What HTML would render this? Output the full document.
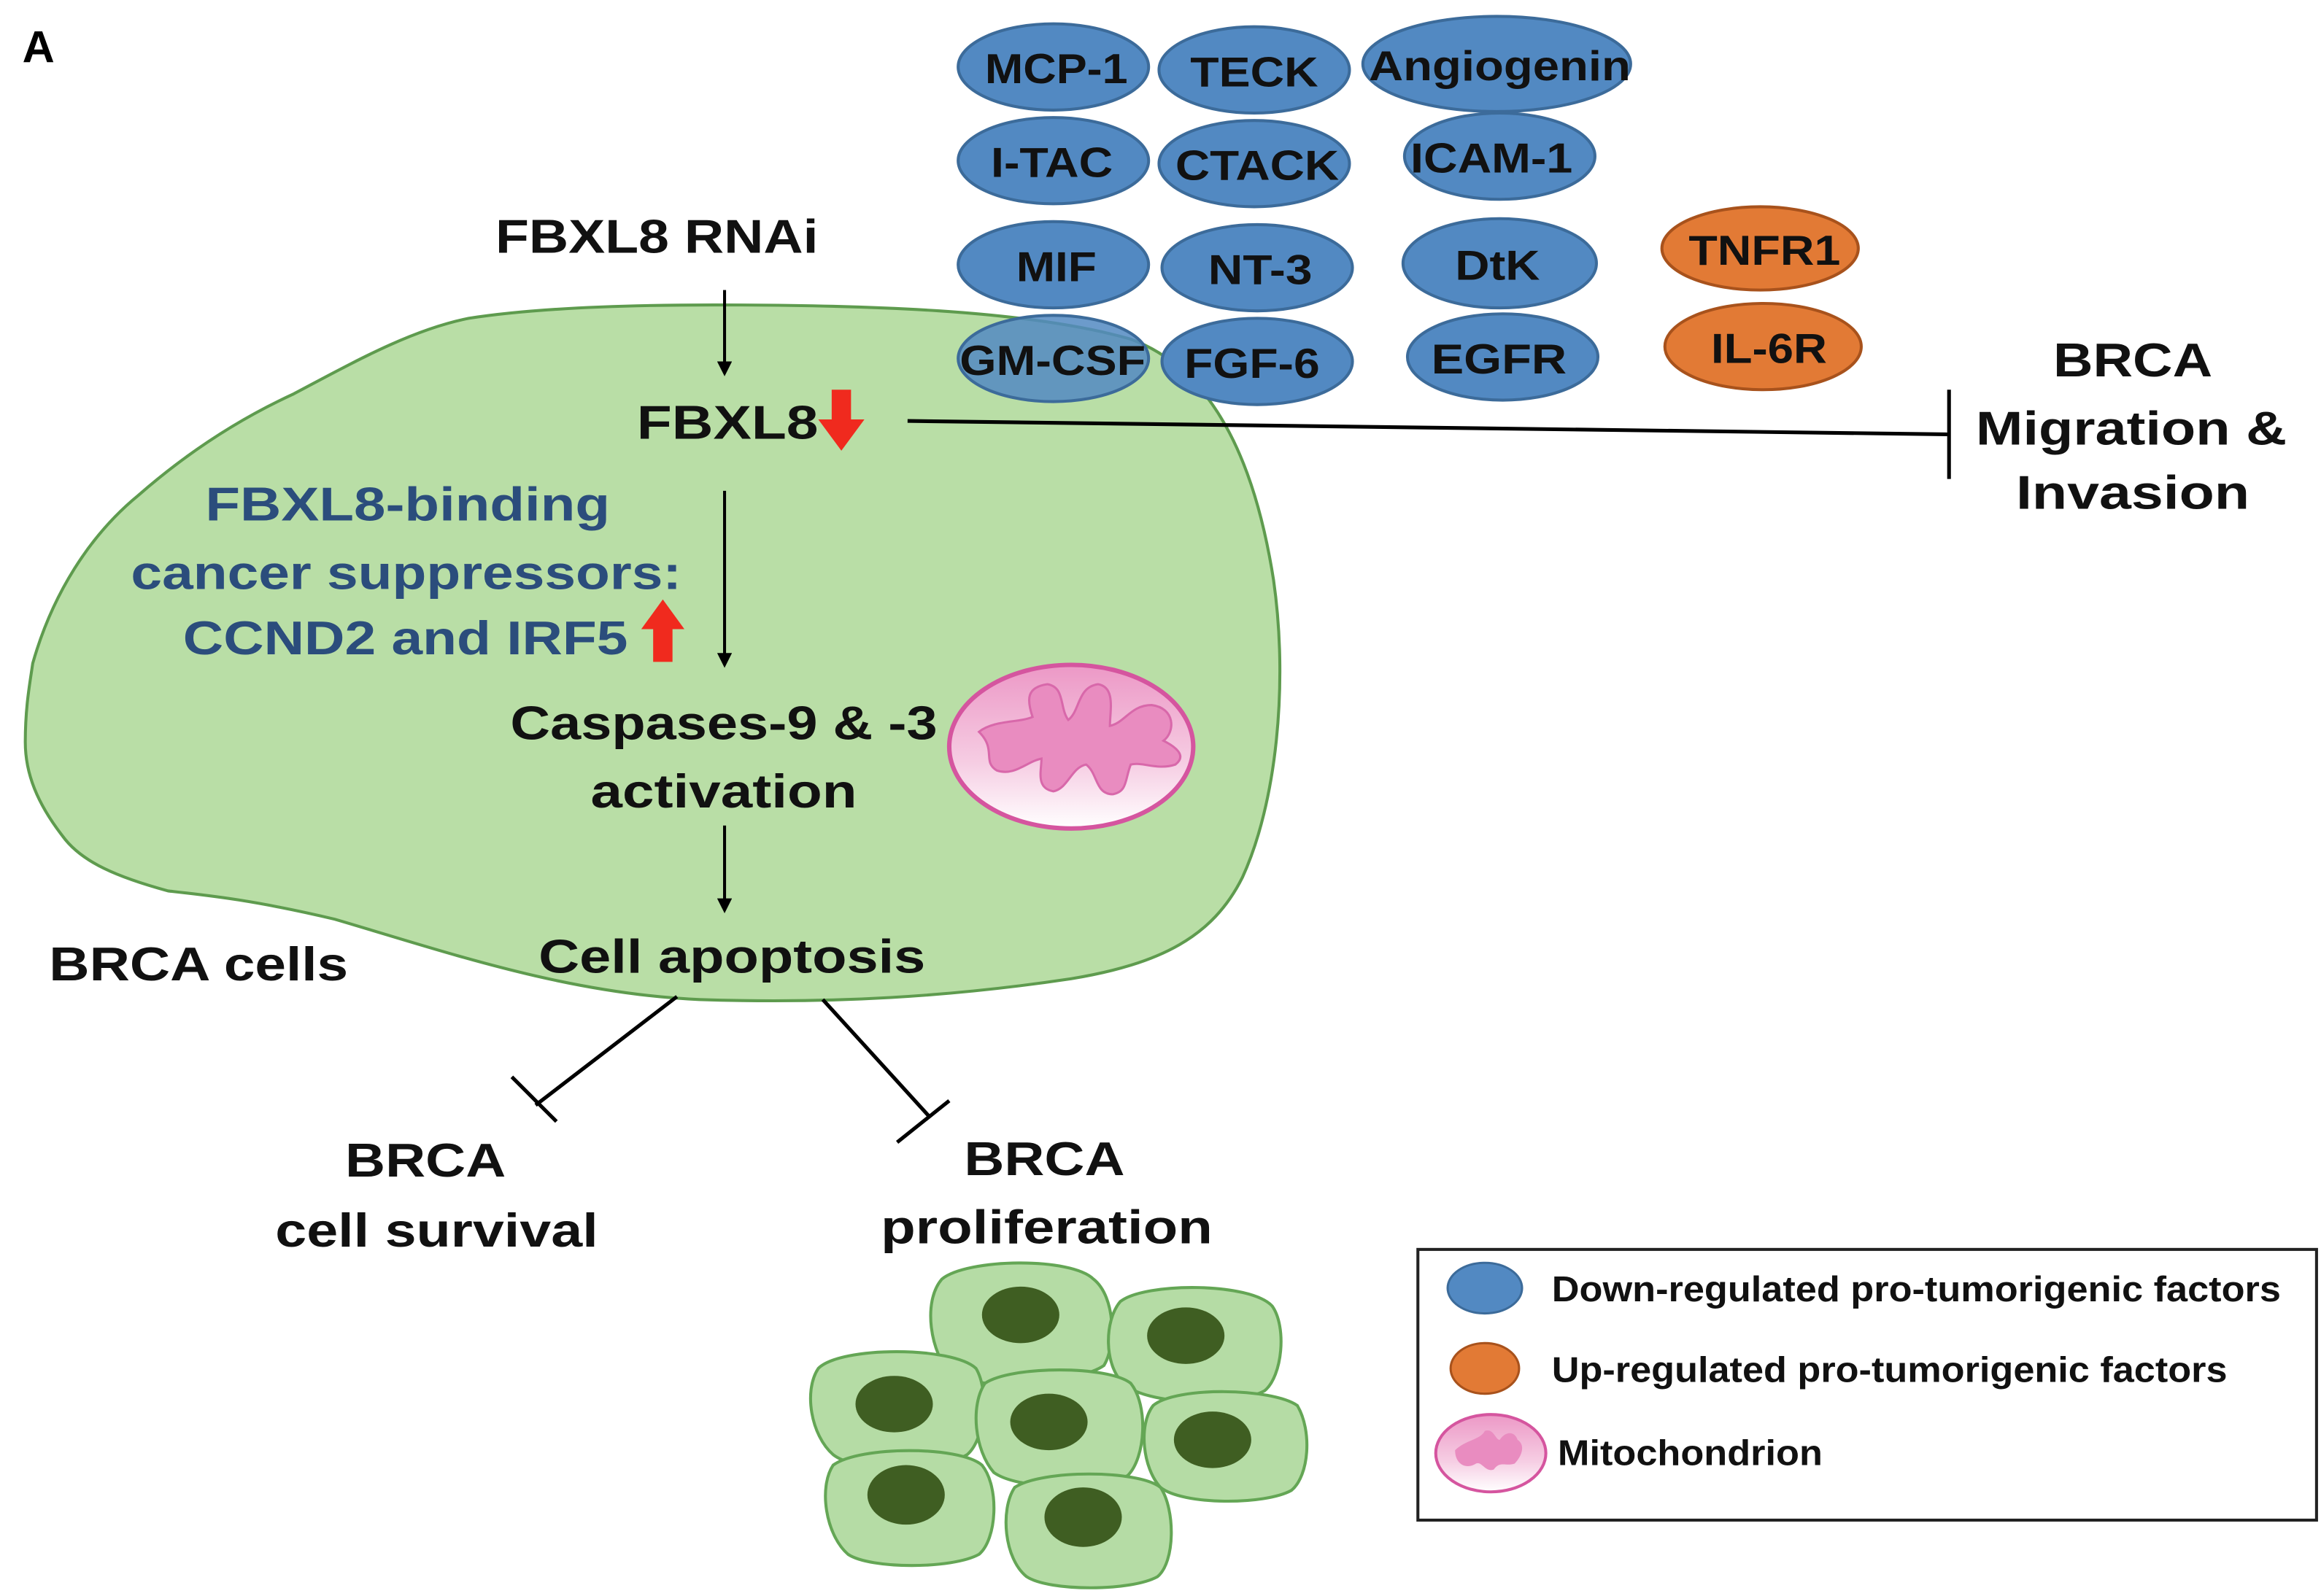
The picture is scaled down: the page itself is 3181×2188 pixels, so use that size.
<!DOCTYPE html>
<html><head><meta charset="utf-8"><style>html,body{margin:0;padding:0;background:#fff}svg{display:block}text{font-family:"Liberation Sans",sans-serif;font-weight:bold}</style></head>
<body>
<svg width="3181" height="2188" viewBox="0 0 1560 1073" xmlns="http://www.w3.org/2000/svg">
<defs>
<linearGradient id="mg" x1="0" y1="0" x2="0" y2="1"><stop offset="0" stop-color="#ec98c6"/><stop offset="0.6" stop-color="#f6cde3"/><stop offset="1" stop-color="#ffffff"/></linearGradient>
<marker id="ar" markerWidth="10" markerHeight="10" refX="5" refY="5" orient="auto" markerUnits="userSpaceOnUse"><path d="M0,0 L10,5 L0,10 z" fill="#000"/></marker>
</defs>
<rect width="1560" height="1073" fill="#fff"/>
<text x="15" y="42" font-size="30">A</text>
<!-- big cell -->
<path d="M315,214 C360,207 420,205 480,205 C580,205 690,208 760,228 C820,250 845,320 856,390 C866,460 858,540 835,590 C815,630 780,648 720,658 C640,670 560,675 470,672 C380,668 300,640 225,618 C170,605 140,602 113,599 C80,590 55,580 42,562 C25,540 17,520 17,499 C17,475 20,460 22,446 C35,400 60,360 93,333 C125,305 160,282 197,265 C235,245 275,222 315,214 Z" fill="#b9dea6" stroke="#5e9b4e" stroke-width="2"/>
<!-- ellipses blue -->
<g fill="#5289c2" stroke="#3c6b9a" stroke-width="2">
<ellipse cx="708" cy="45" rx="64" ry="29"/>
<ellipse cx="843" cy="47" rx="64" ry="29"/>
<ellipse cx="1006" cy="43" rx="90" ry="32"/>
<ellipse cx="708" cy="108" rx="64" ry="29"/>
<ellipse cx="843" cy="110" rx="64" ry="29"/>
<ellipse cx="1008" cy="105" rx="64" ry="29"/>
<ellipse cx="708" cy="178" rx="64" ry="29"/>
<ellipse cx="845" cy="180" rx="64" ry="29"/>
<ellipse cx="1008" cy="177" rx="65" ry="30"/>
<ellipse cx="708" cy="241" rx="64" ry="29" fill-opacity="0.85"/>
<ellipse cx="845" cy="243" rx="64" ry="29"/>
<ellipse cx="1010" cy="240" rx="64" ry="29"/>
</g>
<g fill="#e27a35" stroke="#a8521c" stroke-width="2">
<ellipse cx="1183" cy="167" rx="66" ry="28"/>
<ellipse cx="1185" cy="233" rx="66" ry="29"/>
</g>
<g font-size="28" fill="#111">
<text x="662" y="56" textLength="96" lengthAdjust="spacingAndGlyphs">MCP-1</text>
<text x="800" y="58" textLength="86" lengthAdjust="spacingAndGlyphs">TECK</text>
<text x="920" y="54" textLength="176" lengthAdjust="spacingAndGlyphs">Angiogenin</text>
<text x="666" y="119" textLength="82" lengthAdjust="spacingAndGlyphs">I-TAC</text>
<text x="790" y="121" textLength="110" lengthAdjust="spacingAndGlyphs">CTACK</text>
<text x="948" y="116" textLength="109" lengthAdjust="spacingAndGlyphs">ICAM-1</text>
<text x="683" y="189" textLength="54" lengthAdjust="spacingAndGlyphs">MIF</text>
<text x="812" y="191" textLength="70" lengthAdjust="spacingAndGlyphs">NT-3</text>
<text x="978" y="188" textLength="57" lengthAdjust="spacingAndGlyphs">DtK</text>
<text x="645" y="252" textLength="125" lengthAdjust="spacingAndGlyphs">GM-CSF</text>
<text x="796" y="254" textLength="91" lengthAdjust="spacingAndGlyphs">FGF-6</text>
<text x="962" y="251" textLength="91" lengthAdjust="spacingAndGlyphs">EGFR</text>
<text x="1135" y="178" textLength="102" lengthAdjust="spacingAndGlyphs">TNFR1</text>
<text x="1150" y="244" textLength="78" lengthAdjust="spacingAndGlyphs">IL-6R</text>
</g>
<!-- main texts -->
<g font-size="32" fill="#111">
<text x="333" y="170" textLength="217" lengthAdjust="spacingAndGlyphs">FBXL8 RNAi</text>
<text x="428" y="295" textLength="122" lengthAdjust="spacingAndGlyphs">FBXL8</text>
<text x="1380" y="253" textLength="107" lengthAdjust="spacingAndGlyphs">BRCA</text>
<text x="1328" y="299" textLength="209" lengthAdjust="spacingAndGlyphs">Migration &amp;</text>
<text x="1355" y="342" textLength="157" lengthAdjust="spacingAndGlyphs">Invasion</text>
<text x="343" y="497" textLength="287" lengthAdjust="spacingAndGlyphs">Caspases-9 &amp; -3</text>
<text x="397" y="543" textLength="179" lengthAdjust="spacingAndGlyphs">activation</text>
<text x="362" y="654" textLength="260" lengthAdjust="spacingAndGlyphs">Cell apoptosis</text>
<text x="33" y="659" textLength="201" lengthAdjust="spacingAndGlyphs">BRCA cells</text>
<text x="232" y="791" textLength="108" lengthAdjust="spacingAndGlyphs">BRCA</text>
<text x="185" y="838" textLength="217" lengthAdjust="spacingAndGlyphs">cell survival</text>
<text x="648" y="790" textLength="108" lengthAdjust="spacingAndGlyphs">BRCA</text>
<text x="592" y="836" textLength="223" lengthAdjust="spacingAndGlyphs">proliferation</text>
</g>
<g font-size="32" fill="#2b4d7c">
<text x="138" y="350" textLength="272" lengthAdjust="spacingAndGlyphs">FBXL8-binding</text>
<text x="88" y="396" textLength="370" lengthAdjust="spacingAndGlyphs">cancer suppressors:</text>
<text x="123" y="440" textLength="299" lengthAdjust="spacingAndGlyphs">CCND2 and IRF5</text>
</g>
<!-- red arrows -->
<path d="M559,262 h13 v20 h9 l-15.5,21 l-15.5,-21 h9 z" fill="#f02a1e"/>
<path d="M439,445 h13 v-22 h8 l-14.5,-20 l-14.5,20 h8 z" fill="#f02a1e"/>
<!-- arrows -->
<g stroke="#000" stroke-width="2">
<line x1="487" y1="195" x2="487" y2="248" marker-end="url(#ar)"/>
<line x1="487" y1="330" x2="487" y2="444" marker-end="url(#ar)"/>
<line x1="487" y1="555" x2="487" y2="609" marker-end="url(#ar)"/>
<line x1="610" y1="283" x2="1310" y2="292" stroke-width="2.5"/>
<line x1="1310" y1="262" x2="1310" y2="322" stroke-width="2.5"/>
<line x1="455" y1="670" x2="360" y2="743" stroke-width="2.5"/>
<line x1="344" y1="724" x2="374" y2="754" stroke-width="2.5"/>
<line x1="553" y1="672" x2="624" y2="750" stroke-width="2.5"/>
<line x1="603" y1="768" x2="638" y2="740" stroke-width="2.5"/>
</g>
<!-- mitochondrion -->
<g>
<ellipse cx="720" cy="502" rx="82" ry="55" fill="url(#mg)" stroke="#d5559f" stroke-width="3"/>
<path d="M658,492 C668,484 685,486 694,482 C690,470 690,462 704,460 C716,462 712,476 718,484 C726,478 724,462 738,460 C750,462 746,478 746,488 C756,486 760,474 774,474 C790,476 790,492 782,498 C790,502 798,508 790,514 C778,518 768,512 760,514 C756,524 758,532 748,534 C736,534 738,520 730,514 C720,516 718,530 708,532 C696,530 700,518 700,510 C690,512 682,522 670,518 C660,512 670,504 658,492 Z" fill="#e98cc0" stroke="#d868aa" stroke-width="1.5"/>
</g>
<!-- cluster cells -->
<g stroke="#64a655" stroke-width="2" fill="#b5dca5">
<path d="M633,860 C650,846 720,845 735,860 C750,872 750,905 742,918 C725,930 660,935 640,925 C625,910 620,875 633,860 Z"/>
<path d="M753,875 C770,862 840,862 855,878 C865,892 862,925 850,935 C830,946 770,945 755,930 C742,918 742,888 753,875 Z"/>
<path d="M550,920 C565,905 640,905 656,920 C665,935 662,968 650,978 C630,990 575,990 560,978 C545,965 540,935 550,920 Z"/>
<path d="M662,930 C680,918 745,918 760,930 C772,945 770,980 758,992 C738,1002 685,1002 668,990 C655,975 652,945 662,930 Z"/>
<path d="M775,945 C790,932 855,933 872,945 C882,962 880,992 868,1002 C850,1012 795,1012 780,1000 C768,987 765,958 775,945 Z"/>
<path d="M560,985 C578,972 645,972 660,985 C672,1000 670,1035 658,1045 C640,1055 585,1055 570,1045 C555,1032 550,1000 560,985 Z"/>
<path d="M682,1000 C700,988 765,988 780,1000 C790,1015 790,1050 778,1060 C760,1070 705,1070 690,1060 C675,1048 672,1015 682,1000 Z"/>
</g>
<g fill="#3f5e22">
<ellipse cx="686" cy="884" rx="26" ry="19"/>
<ellipse cx="797" cy="898" rx="26" ry="19"/>
<ellipse cx="601" cy="944" rx="26" ry="19"/>
<ellipse cx="705" cy="956" rx="26" ry="19"/>
<ellipse cx="815" cy="968" rx="26" ry="19"/>
<ellipse cx="609" cy="1005" rx="26" ry="20"/>
<ellipse cx="728" cy="1020" rx="26" ry="20"/>
</g>
<!-- legend -->
<rect x="953" y="840" width="604" height="182" fill="#fff" stroke="#222" stroke-width="2"/>
<ellipse cx="998" cy="866" rx="25" ry="17" fill="#5289c2" stroke="#3c6b9a" stroke-width="1.5"/>
<ellipse cx="998" cy="920" rx="23" ry="17" fill="#e27a35" stroke="#a8521c" stroke-width="1.5"/>
<ellipse cx="1002" cy="977" rx="37" ry="26" fill="url(#mg)" stroke="#d5559f" stroke-width="2"/>
<path d="M978,975 C985,968 995,968 998,962 C1004,960 1005,968 1008,968 C1012,962 1018,962 1020,968 C1026,972 1022,980 1018,984 C1012,986 1008,982 1004,988 C998,990 996,982 992,984 C986,988 978,985 978,975 Z" fill="#e98cc0"/>
<g font-size="24" fill="#111">
<text x="1043" y="875" textLength="490" lengthAdjust="spacingAndGlyphs">Down-regulated pro-tumorigenic factors</text>
<text x="1043" y="929" textLength="454" lengthAdjust="spacingAndGlyphs">Up-regulated pro-tumorigenic factors</text>
<text x="1047" y="985" textLength="178" lengthAdjust="spacingAndGlyphs">Mitochondrion</text>
</g>
</svg>
</body></html>
